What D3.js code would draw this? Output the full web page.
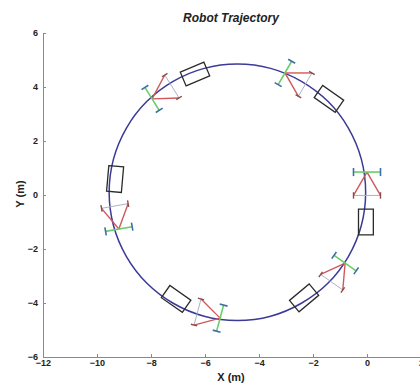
<!DOCTYPE html>
<html>
<head>
<meta charset="utf-8">
<script src="https://cdn.jsdelivr.net/npm/d3@7"></script>
<style>
  html, body { margin: 0; padding: 0; background: #fff; }
  svg { display: block; font-family: "Liberation Sans", Arial, sans-serif; }
</style>
</head>
<body>
<svg id="chart" width="420" height="383"></svg>
<script>
// ---- data ----
const xTicks = [-12, -10, -8, -6, -4, -2, 0, 2];
const yTicks = [-6, -4, -2, 0, 2, 4, 6];

// trajectory points (x, y) in metres, clockwise loop
const trajX = [-0.05, -0.21, -0.69, -1.44, -2.43, -3.57, -4.80, -6.03, -7.18, -8.16, -8.91, -9.39,
               -9.55, -9.39, -8.91, -8.16, -7.18, -6.03, -4.80, -3.57, -2.43, -1.44, -0.69, -0.21];
const trajY = [0.10, 1.33, 2.48, 3.46, 4.21, 4.69, 4.85, 4.69, 4.21, 3.46, 2.48, 1.33,
               0.10, -1.13, -2.28, -3.26, -4.01, -4.49, -4.65, -4.49, -4.01, -3.26, -2.28, -1.13];

// sensor frames: apex position and heading (deg)
const frameX = [-7.96, -3.04, 0.00, -0.81, -5.44, -9.19];
const frameY = [3.56, 4.52, 0.85, -2.52, -4.56, -1.26];
const frameHeading = [32, -30, -90, -125, 165, 100];

// robot bodies: centre and orientation (deg)
const rectX = [-6.37, -1.41, -0.04, -2.33, -7.07, -9.33];
const rectY = [4.48, 3.56, -1.00, -3.81, -3.85, 0.59];
const rectAngle = [23, -35, -90, -140, 145, 85];

// ---- layout ----
const svg = d3.select("#chart");
const x = d3.scaleLinear().domain([-12, 2]).range([43, 421]);
const y = d3.scaleLinear().domain([-6, 6]).range([357, 33]);

const axisColor = "#8a8a8a";

// axes
const gx = svg.append("g").attr("transform", `translate(0,${y(-6)})`)
  .call(d3.axisBottom(x).tickValues(xTicks).tickFormat(d3.format("d"))
        .tickSizeInner(-3).tickSizeOuter(0).tickPadding(4));
const gy = svg.append("g").attr("transform", `translate(${x(-12)},0)`)
  .call(d3.axisLeft(y).tickValues(yTicks).tickFormat(d3.format("d"))
        .tickSizeInner(-3).tickSizeOuter(0).tickPadding(5));
[gx, gy].forEach(g => {
  g.select(".domain").attr("stroke", axisColor).attr("stroke-width", 1);
  g.selectAll(".tick line").attr("stroke", axisColor);
  g.selectAll(".tick text").attr("fill", "#222").attr("font-size", 9)
    .attr("font-weight", "bold").attr("font-family", "Liberation Sans, Arial, sans-serif");
});
gx.selectAll(".tick text").attr("dy", "0.6em");

// trajectory
const pts = trajX.map((v, i) => [x(v), y(trajY[i])]);
svg.append("path")
  .attr("d", d3.line().curve(d3.curveCardinalClosed.tension(0))(pts))
  .attr("fill", "none").attr("stroke", "#3b3a96").attr("stroke-width", 1.5);

// robot bodies
const L = 0.95, W = 0.55;
rectX.forEach((cx, i) => {
  const a = rectAngle[i] * Math.PI / 180;
  const f = [Math.cos(a), Math.sin(a)], l = [-Math.sin(a), Math.cos(a)];
  const corners = [[1, 1], [1, -1], [-1, -1], [-1, 1]].map(([s, t]) => [
    x(cx + s * f[0] * L / 2 + t * l[0] * W / 2),
    y(rectY[i] + s * f[1] * L / 2 + t * l[1] * W / 2)
  ]);
  svg.append("polygon").attr("points", corners.map(p => p.join(",")).join(" "))
    .attr("fill", "none").attr("stroke", "#2a2a2a").attr("stroke-width", 1.3);
});

// sensor frames
const arrowLen = 1.0, half = 30, greenHalf = 0.5, capHalf = 0.15;
frameX.forEach((ax, i) => {
  const ay = frameY[i];
  const h = frameHeading[i] * Math.PI / 180;
  const f = [Math.cos(h), Math.sin(h)], l = [-Math.sin(h), Math.cos(h)];
  const g = svg.append("g");
  const tips = [-1, 1].map(s => {
    const b = h + s * half * Math.PI / 180;
    return [ax + arrowLen * Math.cos(b), ay + arrowLen * Math.sin(b)];
  });
  // connecting line between tips
  g.append("line").attr("x1", x(tips[0][0])).attr("y1", y(tips[0][1]))
    .attr("x2", x(tips[1][0])).attr("y2", y(tips[1][1]))
    .attr("stroke", "#aab2c8").attr("stroke-width", 1);
  // red arrows
  tips.forEach(t => {
    g.append("line").attr("x1", x(ax)).attr("y1", y(ay)).attr("x2", x(t[0])).attr("y2", y(t[1]))
      .attr("stroke", "#d0585a").attr("stroke-width", 1.4);
    g.append("line")
      .attr("x1", x(t[0] - f[0] * capHalf * 0.8)).attr("y1", y(t[1] - f[1] * capHalf * 0.8))
      .attr("x2", x(t[0] + f[0] * capHalf * 0.8)).attr("y2", y(t[1] + f[1] * capHalf * 0.8))
      .attr("stroke", "#8a4a4a").attr("stroke-width", 1.4);
  });
  // green perpendicular line
  const e = [-1, 1].map(s => [ax + s * greenHalf * l[0], ay + s * greenHalf * l[1]]);
  g.append("line").attr("x1", x(e[0][0])).attr("y1", y(e[0][1]))
    .attr("x2", x(e[1][0])).attr("y2", y(e[1][1]))
    .attr("stroke", "#6acd6a").attr("stroke-width", 1.6);
  e.forEach(p => {
    g.append("line")
      .attr("x1", x(p[0] - f[0] * capHalf)).attr("y1", y(p[1] - f[1] * capHalf))
      .attr("x2", x(p[0] + f[0] * capHalf)).attr("y2", y(p[1] + f[1] * capHalf))
      .attr("stroke", "#3f6ea8").attr("stroke-width", 1.6);
  });
});

// titles
svg.append("text").attr("x", 231).attr("y", 22).attr("text-anchor", "middle")
  .attr("font-size", 12).attr("font-weight", "bold").attr("font-style", "italic")
  .attr("fill", "#222").text("Robot Trajectory");
svg.append("text").attr("x", 231).attr("y", 381).attr("text-anchor", "middle")
  .attr("font-size", 11).attr("font-weight", "bold").attr("fill", "#222").text("X (m)");
svg.append("text").attr("transform", "translate(24,194) rotate(-90)").attr("text-anchor", "middle")
  .attr("font-size", 11).attr("font-weight", "bold").attr("fill", "#222").text("Y (m)");
</script>
</body>
</html>
